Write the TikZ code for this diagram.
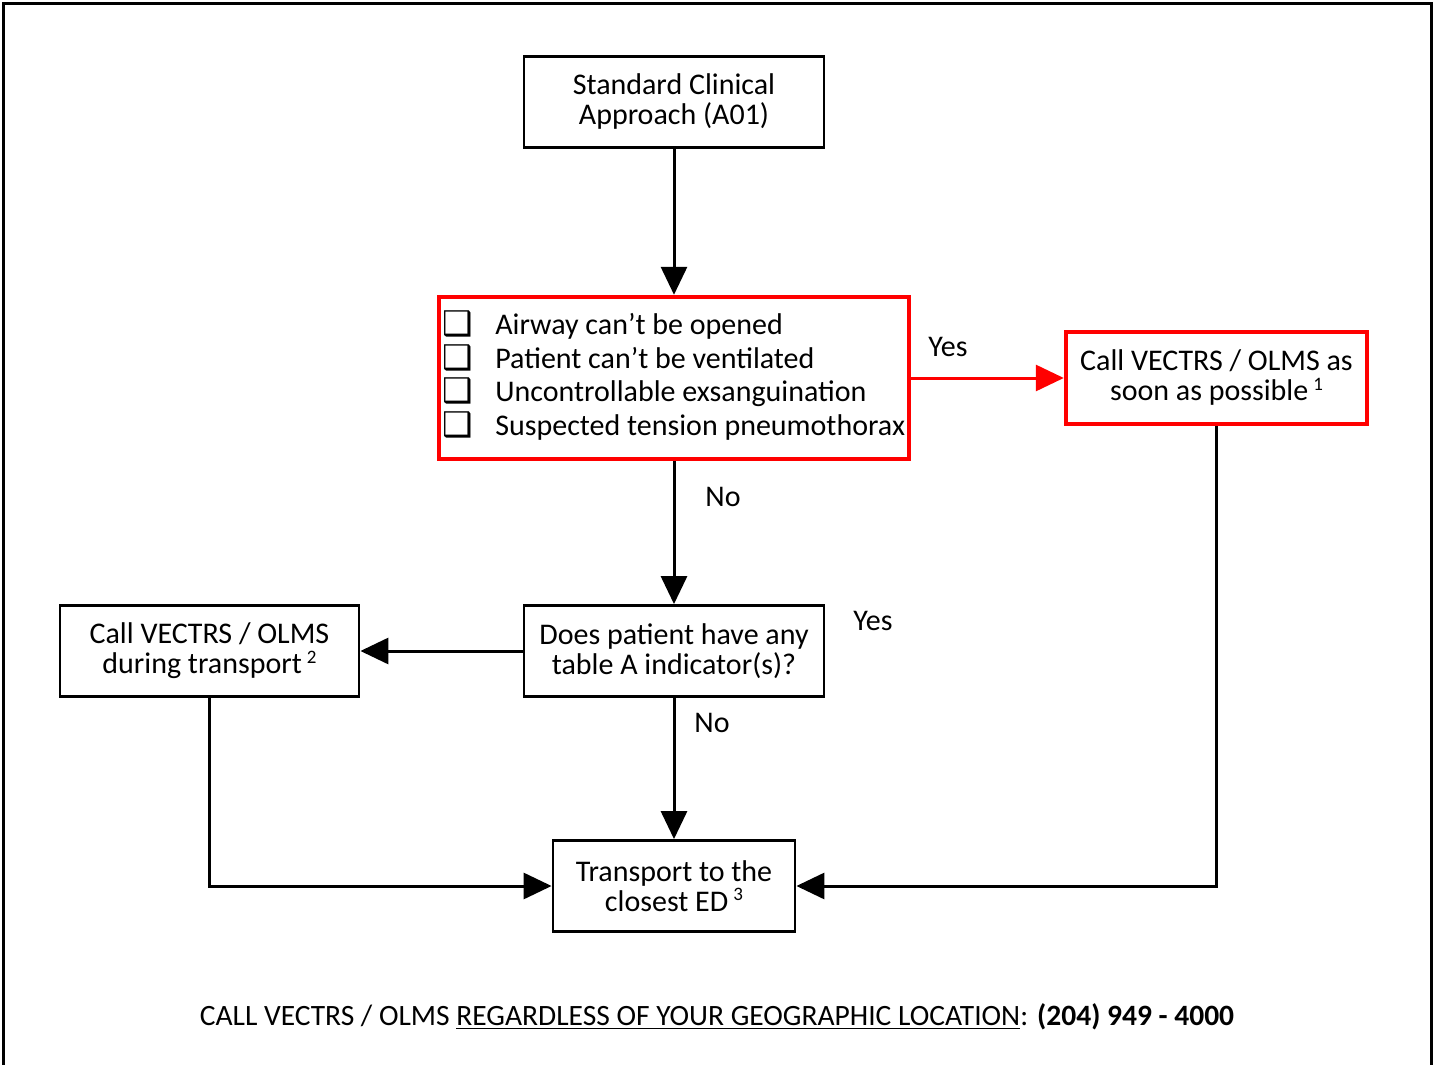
\documentclass[tikz,border=0pt]{standalone}
\usepackage{fontspec}
\setmainfont{Carlito}
\newfontfamily\dvfont{DejaVu Sans}
\usetikzlibrary{arrows.meta}
\newcommand\chkbox{\raisebox{-0.5pt}{\dvfont\fontsize{17}{17}\selectfont ❑}}
\newcommand\supnum[1]{\,\raisebox{0.75ex}{\fontsize{9.5}{9.5}\selectfont #1}}
\begin{document}
\begin{tikzpicture}[x=0.5pt,y=-0.5pt,
  box/.style={draw=black,line width=1.4pt,align=center,inner sep=0pt,
    font=\fontsize{15}{15}\selectfont},
  redbox/.style={box,draw=red,line width=2.2pt},
  arr/.style={line width=1.5pt,-{Triangle[length=14pt,width=13pt]}},
  redarr/.style={arr,draw=red,-{Triangle[length=14pt,width=13pt,fill=red]}},
  lbl/.style={font=\fontsize{15}{15}\selectfont,inner sep=0pt}]
\useasboundingbox (0,0) rectangle (1437,1065);
\draw[line width=1.5pt] (3,1080) -- (3,4) -- (1431,4) -- (1431,1080);

\node[box,minimum width=150pt,minimum height=45.5pt] (a) at (674,102)
  {Standard Clinical\\Approach (A01)};
\node[redbox,minimum width=235pt,minimum height=81pt,
  font=\fontsize{15}{16.5}\selectfont] (b) at (674,378)
  {\raisebox{-2pt}{\begin{tabular}{@{}l@{\hspace{11pt}}l@{}}
   \chkbox & Airway can’t be opened\\
   \chkbox & Patient can’t be ventilated\\
   \chkbox & Uncontrollable exsanguination\\
   \chkbox & Suspected tension pneumothorax
   \end{tabular}}};
\node[redbox,minimum width=150.5pt,minimum height=46pt] (c) at (1216.5,378)
  {Call VECTRS / OLMS as\\soon as possible\supnum{1}};
\node[box,minimum width=150pt,minimum height=45.5pt] (d) at (674,651)
  {Does patient have any\\table A indicator(s)?};
\node[box,minimum width=149.5pt,minimum height=45.5pt] (e) at (209.5,651)
  {Call VECTRS / OLMS\\during transport\supnum{2}};
\node[box,minimum width=121pt,minimum height=45.5pt] (f) at (674,886)
  {Transport to the\\closest ED\supnum{3}};

\draw[arr] (a) -- (b);
\draw[redarr] (b) -- (c);
\draw[arr] (b) -- (d);
\draw[arr] (d) -- (e);
\draw[arr] (d) -- (f);
\draw[arr] (e.south) |- (f.west);
\draw[arr] (c.south) |- (f.east);

\node[lbl] (yes1) at (948,347) {Yes};
\node[lbl] (no1) at (723,497) {No};
\node[lbl] (yes2) at (873,621) {Yes};
\node[lbl] (no2) at (712,723) {No};

\node[lbl,font=\fontsize{14.75}{15}\selectfont] (foot) at (717,1017)
  {CALL VECTRS / OLMS \underline{REGARDLESS OF YOUR GEOGRAPHIC LOCATION}: \textbf{(204) 949 - 4000}};
\end{tikzpicture}
\end{document}
